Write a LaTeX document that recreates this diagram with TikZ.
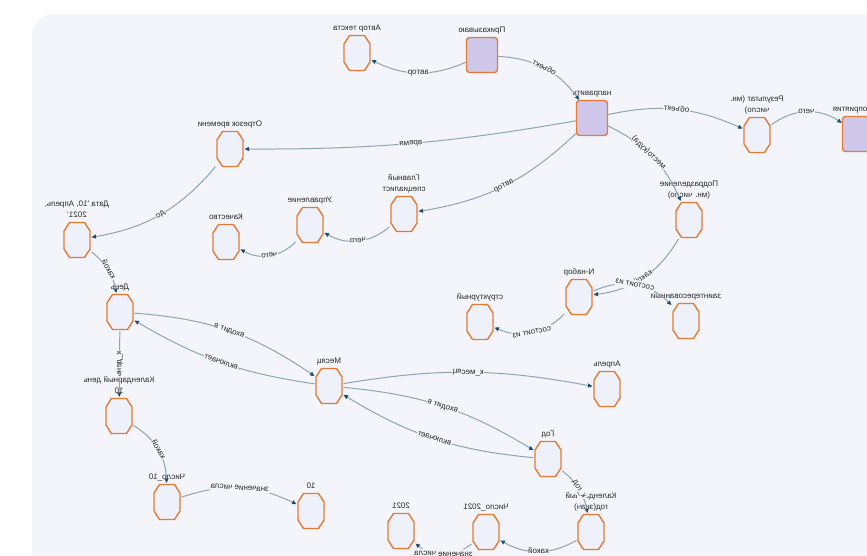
\documentclass[tikz,border=0pt]{standalone}
\usepackage{fontspec}
\setmainfont{Liberation Sans}
\usepackage{graphicx}
\usetikzlibrary{arrows.meta}
\definecolor{panel}{HTML}{F3F5FA}
\definecolor{octc}{HTML}{E57A35}
\definecolor{octfill}{HTML}{EEF1FA}
\definecolor{sqfill}{HTML}{CEC7EA}
\definecolor{edgec}{HTML}{8FA5B2}
\definecolor{arrc}{HTML}{1E4D72}
\definecolor{txt}{HTML}{2B2B2B}
\newcommand\mir[1]{\reflectbox{\begin{tabular}{@{}c@{}}#1\end{tabular}}}
\begin{document}
\begin{tikzpicture}[x=1pt,y=-1pt,
  oct/.style={rectangle, minimum width=29pt, minimum height=38pt, inner sep=0pt, outer sep=0pt,
    path picture={\begin{scope}[shift={(path picture bounding box.center)}]
      \draw[draw=octc, fill=octfill, line width=1.4pt] (-7.5,-17.5) -- (7.5,-17.5) -- (13,-9) -- (13,9) -- (7.5,17.5) -- (-7.5,17.5) -- (-13,9) -- (-13,-9) -- cycle;
    \end{scope}}},
  sq/.style={rectangle, rounded corners=3pt, draw=octc, fill=sqfill, line width=1.4pt, minimum width=31pt, minimum height=35pt, inner sep=0pt},
  nlab/.style={font=\fontsize{8}{10.5}\selectfont, text=txt, inner sep=0.6pt},
  edge/.style={draw=edgec, line width=1pt, -{Triangle[length=4.5pt,width=4pt,color=arrc]}},
  elab/.style={font=\fontsize{8}{9}\selectfont, text=txt, fill=panel, inner sep=0.6pt, sloped}
]
\useasboundingbox (0,0) rectangle (867,555);
\clip (0,0) rectangle (867,555);
\fill[white] (0,0) rectangle (867,555);
\fill[panel, rounded corners=22pt] (32,14) rectangle (920,620);

\node[oct, label={[nlab]above:{\mir{Автор текста}}}] (aut) at (357,53) {};
\node[sq, label={[nlab]above:{\mir{Приказываю}}}] (prik) at (482,55) {};
\node[sq, label={[nlab]above:{\mir{направить}}}] (napr) at (592,118) {};
\node[oct, label={[nlab]above:{\mir{Результат (мн.\\число)}}}] (rez) at (757,135) {};
\node[sq, label={[nlab]above:{\mir{Мероприятия}}}] (mer) at (858,134) {};
\node[oct, label={[nlab]above:{\mir{Подразделение\\(мн. число)}}}] (podr) at (689,220) {};
\node[oct, label={[nlab]above:{\mir{N-набор}}}] (nnab) at (579,297) {};
\node[oct, label={[nlab]above:{\mir{заинтересованный}}}] (zain) at (686,321) {};
\node[oct, label={[nlab]above:{\mir{структурный}}}] (str) at (480,322) {};
\node[oct, label={[nlab]above:{\mir{Главный\\специалист}}}] (glav) at (404,214) {};
\node[oct, label={[nlab]above:{\mir{Управление}}}] (upr) at (310,225) {};
\node[oct, label={[nlab]above:{\mir{Качество}}}] (kach) at (226,242) {};
\node[oct, label={[nlab]above:{\mir{Отрезок времени}}}] (otr) at (230,149) {};
\node[oct, label={[nlab]above:{\mir{Дата '10, Апрель,\\2021'}}}] (data) at (77,240) {};
\node[oct, label={[nlab]above:{\mir{День}}}] (den) at (120,312) {};
\node[oct, label={[nlab]above:{\mir{Месяц}}}] (mes) at (329,386) {};
\node[oct, label={[nlab]above:{\mir{Апрель}}}] (apr) at (607,389) {};
\node[oct, label={[nlab]above:{\mir{Год}}}] (god) at (548,459) {};
\node[oct, label={[nlab]above:{\mir{Календарный день\\10}}}] (kden) at (119,416) {};
\node[oct, label={[nlab]above:{\mir{Число\_10}}}] (ch10) at (167,502) {};
\node[oct, label={[nlab]above:{\mir{10}}}] (d10) at (311,511) {};
\node[oct, label={[nlab]above:{\mir{Календарный\\год(знач)}}}] (kgod) at (591,532) {};
\node[oct, label={[nlab]above:{\mir{Число\_2021}}}] (ch21) at (486,532) {};
\node[oct, label={[nlab]above:{\mir{2021}}}] (d21) at (401,531) {};

\draw[edge] (prik) to[bend left=25] node[elab]{\mir{автор}} (aut);
\draw[edge] (prik) to[bend left=25] node[elab]{\mir{объект}} (napr);
\draw[edge] (napr) to[bend left=18] node[elab]{\mir{объект}} (rez);
\draw[edge] (rez) to[bend left=35] node[elab]{\mir{чего}} (mer);
\draw[edge] (napr) to[bend left=20] node[elab, pos=0.45]{\mir{место(куда)}} (podr);
\draw[edge] (napr) to[bend left=5] node[elab]{\mir{время}} (otr);
\draw[edge] (napr) to[bend left=17] node[elab]{\mir{автор}} (glav);
\draw[edge] (glav) to[bend left=35] node[elab]{\mir{чего}} (upr);
\draw[edge] (upr) to[bend left=38] node[elab]{\mir{чего}} (kach);
\draw[edge] (otr) to[bend left=20] node[elab]{\mir{до}} (data);
\draw[edge] (data) to[bend left=20] node[elab]{\mir{какой}} (den);
\draw[edge] (den) to[bend left=15] node[elab]{\mir{входит в}} (mes);
\draw[edge] (mes) to[bend left=11] node[elab]{\mir{включает}} (den);
\draw[edge] (den) -- node[elab]{\mir{к\_день}} (kden);
\draw[edge] (kden) to[bend left=28] node[elab]{\mir{какой}} (ch10);
\draw[edge] (ch10) to[bend left=22] node[elab]{\mir{значение числа}} (d10);
\draw[edge] (mes) to[bend left=10] node[elab]{\mir{к\_месяц}} (apr);
\draw[edge] (mes) to[bend left=13] node[elab]{\mir{входит в}} (god);
\draw[edge] (god) to[bend left=13] node[elab]{\mir{включает}} (mes);
\draw[edge] (god) to[bend left=20] node[elab]{\mir{к\_год}} (kgod);
\draw[edge] (kgod) to[bend left=30] node[elab]{\mir{какой}} (ch21);
\draw[edge] (ch21) to[bend left=40] node[elab]{\mir{значение числа}} (d21);
\draw[edge] (podr) to[bend left=26] node[elab]{\mir{какой}} (nnab);
\draw[edge] (nnab) to[bend left=35] node[elab]{\mir{состоит из}} (zain);
\draw[edge] (nnab) to[bend left=35] node[elab]{\mir{состоит из}} (str);
\end{tikzpicture}
\end{document}
